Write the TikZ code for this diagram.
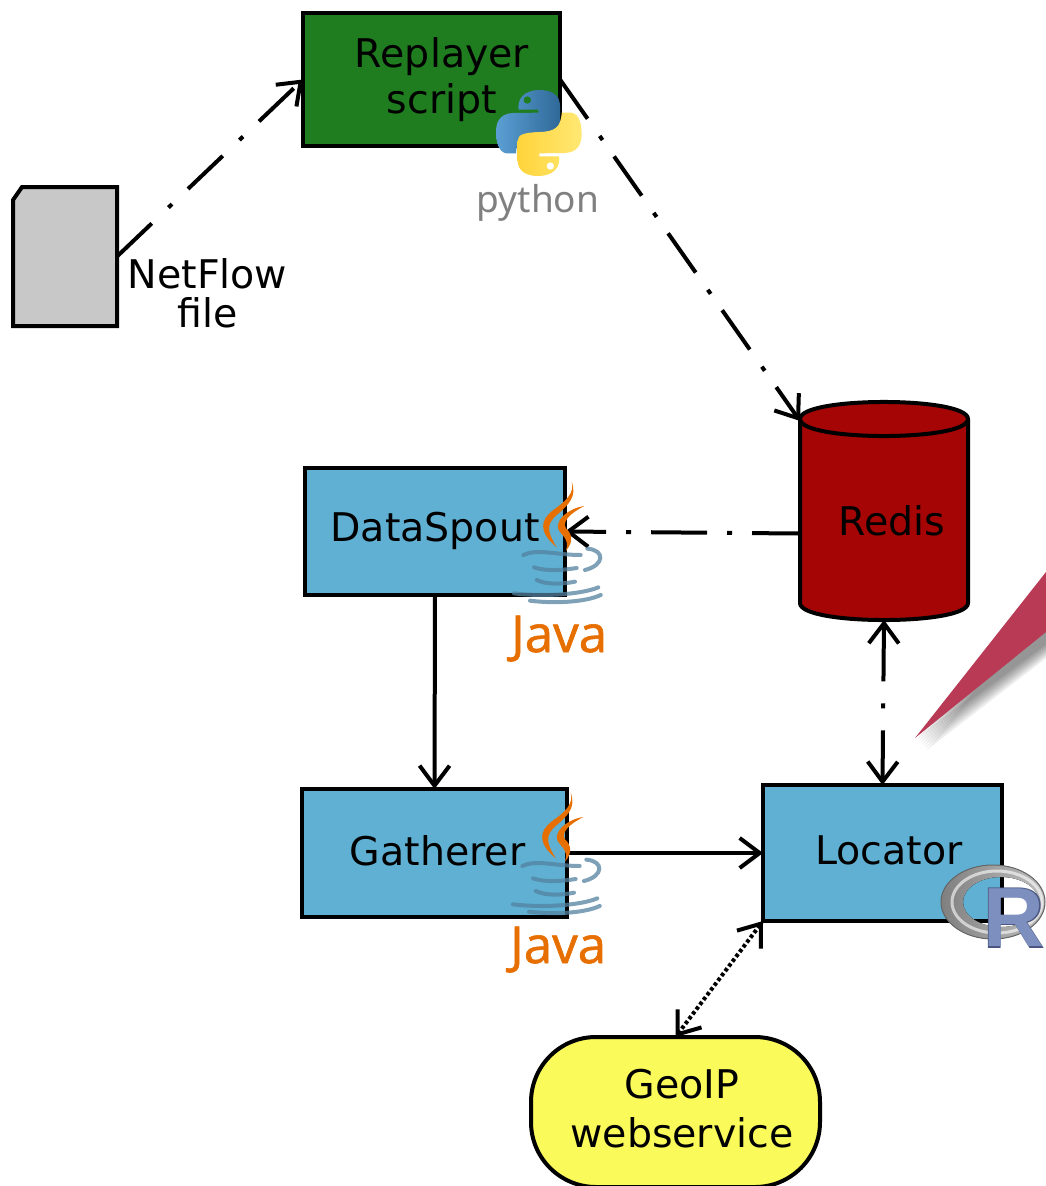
\documentclass[tikz,border=0pt]{standalone}
\usepackage{fontspec}
\setmainfont{DejaVu Sans}
\newfontfamily\logofont[FakeBold=1.2]{Open Sans}
\newfontfamily\pyfont{Noto Sans}
\newfontfamily\rfont{Liberation Sans}
\usetikzlibrary{arrows.meta,calc}
\definecolor{boxblue}{HTML}{5FB0D2}
\definecolor{boxgreen}{HTML}{1F7D1F}
\definecolor{dbred}{HTML}{A50505}
\definecolor{filegray}{HTML}{C8C8C8}
\definecolor{svcyellow}{HTML}{FAFA5A}
\definecolor{wedge}{HTML}{B83A55}
\definecolor{javaorange}{HTML}{E76F00}
\definecolor{javablue}{HTML}{5382A1}
\definecolor{pyblueA}{HTML}{5A9FD4}
\definecolor{pyblueB}{HTML}{306998}
\definecolor{pyyelA}{HTML}{FFD43B}
\definecolor{pyyelB}{HTML}{FFE873}
\definecolor{pygray}{HTML}{808080}
\definecolor{rblue}{HTML}{7D8FBE}
\definecolor{rdark}{HTML}{4A5680}
\tikzset{
  x=1pt,y=-1pt,
  boxbase/.style={draw=black,line width=4pt,inner sep=0pt,outer sep=0pt},
  procbox/.style={boxbase,rectangle,fill=boxblue},
  anchorbox/.style={rectangle,inner sep=0pt,outer sep=0pt},
  lbl/.style={font=\fontsize{39.5}{46}\selectfont,align=center,inner sep=0pt,text=black},
  flow/.style={line width=4pt,draw=black,-{Straight Barb[length=20pt,width=30pt,line width=4pt]}},
  flowboth/.style={line width=4pt,draw=black,{Straight Barb[length=20pt,width=30pt,line width=4pt]}-{Straight Barb[length=20pt,width=30pt,line width=4pt]}},
  dashdot/.style={dash pattern=on 48pt off 21pt on 5pt off 20pt},
  dotflow/.style={line width=4pt,draw=black,dash pattern=on 3.5pt off 2.5pt,{Straight Barb[length=20pt,width=30pt,line width=4pt]}-{Straight Barb[length=20pt,width=30pt,line width=4pt]}},
  steam/.style={draw=javablue,line width=4pt,line cap=round,opacity=.75},
  flame/.style={fill=javaorange,draw=none},
}
\newcommand{\pypath}{(145,112) .. controls (145,72) and (180,60) .. (208,60) .. controls (245,60) and (270,75) .. (270,108)
   -- (270,165) .. controls (270,185) and (250,190) .. (205,192) .. controls (160,193) and (140,205) .. (138,250)
   -- (108,250) .. controls (85,245) and (78,215) .. (78,185) .. controls (78,150) and (95,130) .. (130,129)
   -- (205,128) -- (205,119) -- (146,119) -- cycle}
\newcommand{\javalogo}[3]{%
 \begin{scope}[shift={(#1,#2)},scale=1/3]
  \path[flame] (245,35) .. controls (255,70) and (225,95) .. (190,120) .. controls (150,150) and (145,185) .. (200,232) .. controls (175,190) and (165,165) .. (200,135) .. controls (235,105) and (262,80) .. (245,35) -- cycle;
  \path[flame] (283,108) .. controls (235,115) and (195,150) .. (205,178) .. controls (212,195) and (240,205) .. (228,242) .. controls (252,215) and (245,190) .. (228,175) .. controls (215,155) and (240,130) .. (283,108) -- cycle;
  \draw[steam] (100,255) .. controls (140,235) and (200,255) .. (272,255);
  \draw[steam] (132,292) .. controls (170,305) and (220,300) .. (260,294);
  \draw[steam] (140,330) .. controls (170,345) and (220,342) .. (255,335);
  \draw[steam] (72,370) .. controls (150,380) and (270,375) .. (325,352);
  \draw[steam] (120,392) .. controls (200,402) and (290,395) .. (332,375);
  \draw[steam] (292,236) .. controls (345,240) and (345,285) .. (285,300);
 \end{scope}
 \node[anchor=base west,inner sep=0pt,text=javaorange,font=\logofont\fontsize{51}{51}\selectfont] (#3) at (#1+21,#2+182) {Java};
}
\begin{document}
\begin{tikzpicture}
\useasboundingbox (0,0) rectangle (1046,1186);
\clip (0,0) rectangle (1046,1186);
\fill[white] (0,0) rectangle (1046,1186);

% wedge with soft shadow
\foreach \i in {1,...,7}{
  \fill[black,opacity=.07] (915+\i*1.7,738+\i*1.7) -- (1060,572+\i*1.7) -- (1060,632+\i*2.2) -- cycle;
}
\fill[wedge] (915,738) -- (1046,572) -- (1046,632) -- cycle;

% shapes
\node[boxbase,rectangle,fill=boxgreen,minimum width=257pt,minimum height=133pt] (replayer) at (431.5,79.5) {};
\node[anchorbox,minimum width=104pt,minimum height=139pt] (file) at (65,256.5) {};
\draw[line width=4pt,fill=filegray] ($(file.north west)+(0,13)$) -- ($(file.north west)+(9,0)$) -- (file.north east) -- (file.south east) -- (file.south west) -- cycle;
\node[anchorbox,minimum width=168pt,minimum height=218pt] (redis) at (884,511) {};
\draw[line width=4pt,fill=dbred] ($(redis.north west)+(0,17)$)
   .. controls ($(redis.north west)+(0,-5.7)$) and ($(redis.north east)+(0,-5.7)$) .. ($(redis.north east)+(0,17)$)
   -- ($(redis.south east)+(0,-17)$)
   .. controls ($(redis.south east)+(0,5.7)$) and ($(redis.south west)+(0,5.7)$) .. ($(redis.south west)+(0,-17)$)
   -- cycle;
\draw[line width=4pt] ($(redis.north west)+(0,17)$)
   .. controls ($(redis.north west)+(0,39.7)$) and ($(redis.north east)+(0,39.7)$) .. ($(redis.north east)+(0,17)$);
\node[procbox,minimum width=260pt,minimum height=127pt] (dataspout) at (435,531.5) {};
\node[procbox,minimum width=265pt,minimum height=128pt] (gatherer) at (434.5,853) {};
\node[procbox,minimum width=239pt,minimum height=136pt] (locator) at (882.5,853) {};
\node[boxbase,rectangle,rounded corners=65pt,fill=svcyellow,minimum width=289pt,minimum height=150pt] (geoip) at (675.5,1112) {};

% connectors
\draw[flow,dash pattern=on 48pt off 23pt on 5pt off 22pt] (file.east) -- (replayer.west);
\draw[flow,dashdot] (replayer.east) -- (redis.133);
\draw[flow,dash pattern=on 56pt off 20pt on 5pt off 20pt,dash phase=8pt] (redis.195) -- (dataspout.east);
\draw[flow] (dataspout.south) -- (gatherer.north);
\draw[flow] (gatherer.east) -- (locator.west);
\draw[flowboth,dash pattern=on 56pt off 22pt on 5pt off 22pt on 70pt off 1pt] (redis.270) -- (locator.north);
\draw[dotflow] (locator.south west) -- (geoip.north);

% labels
\node[lbl] (replayertext) at (442,79.5) {Replayer\\script};
\node[lbl,font=\fontsize{39.5}{39}\selectfont] (filetext) at (207.5,293) {NetFlow\\file};
\node[lbl,anchor=base] (redistext) at (892,535) {Redis};
\node[lbl,anchor=base] (dataspouttext) at (435,541) {DataSpout};
\node[lbl,anchor=base] (gatherertext) at (437.5,865) {Gatherer};
\node[lbl,anchor=base] (locatortext) at (889,864) {Locator};
\node[lbl,font=\fontsize{39.5}{48.5}\selectfont] (geoiptext) at (682,1108.5) {GeoIP\\webservice};

% python logo
\begin{scope}[shift={(470,70)},scale=1/3]
  \path[left color=pyblueA,right color=pyblueB] \pypath;
  \fill[boxgreen] (172,90) circle (11);
  \begin{scope}[rotate around={180:(206.5,189)}]
   \path[left color=pyyelA,right color=pyyelB] \pypath;
   \fill[white] (172,90) circle (11);
  \end{scope}
\end{scope}
\node[anchor=base,inner sep=0pt,text=pygray,font=\pyfont\fontsize{37}{37}\selectfont] (pythontext) at (538,212) {python};

% java logos
\javalogo{490}{470}{javatexta}
\javalogo{489}{781}{javatextb}

% R logo
\fill[even odd rule,left color=black!50,right color=black!25] (993,902) ellipse [x radius=52,y radius=37] (1001,902) ellipse [x radius=38,y radius=25];
\draw[black!60,line width=1pt] (993,902) ellipse [x radius=52,y radius=37];
\draw[white,opacity=.6,line width=3pt] (997,902) ellipse [x radius=45,y radius=31];
\node[anchor=base,inner sep=0pt,text=rdark,font=\rfont\bfseries\fontsize{88}{88}\selectfont] (rshadow) at (1014,948) {R};
\node[anchor=base,inner sep=0pt,text=rblue,font=\rfont\bfseries\fontsize{84}{84}\selectfont] (rtext) at (1014,946) {R};
\end{tikzpicture}
\end{document}
